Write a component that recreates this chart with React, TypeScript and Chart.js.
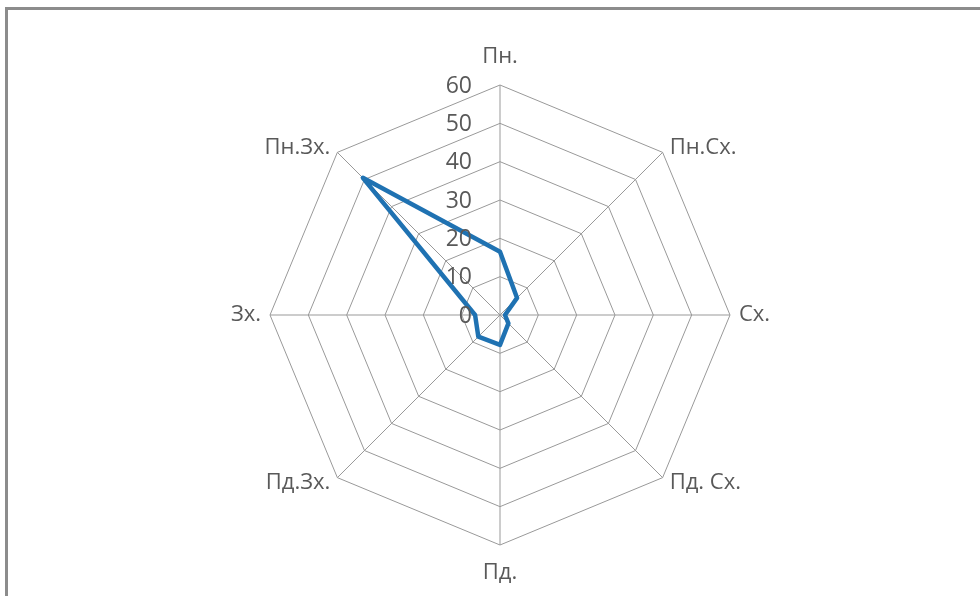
import React, { useEffect, useRef } from "react";
import { Chart, registerables } from "chart.js";

Chart.register(...registerables);

// Compass directions, clockwise from north
const directions = ["Пн.", "Пн.Сх.", "Сх.", "Пд. Сх.", "Пд.", "Пд.Зх.", "Зх.", "Пн.Зх."];
// Frequency per direction
const frequency = [16.5, 6.3, 1.3, 3.1, 7.8, 8.0, 6.5, 50.6];
// Radial tick values
const tickValues = [0, 10, 20, 30, 40, 50, 60];

const TEXT_COLOR = "#595959";
const GRID_COLOR = "#999999";
const LINE_COLOR = "#1f72b2";
const FONT_FAMILY = "'Open Sans', 'Noto Sans', sans-serif";

// Draws radial tick labels to the left of the vertical axis
const tickLabelPlugin = {
  id: "leftTickLabels",
  afterDraw(chart: any) {
    const scale = chart.scales.r;
    const ctx = chart.ctx;
    ctx.save();
    ctx.font = `23px ${FONT_FAMILY}`;
    ctx.fillStyle = TEXT_COLOR;
    ctx.textAlign = "right";
    ctx.textBaseline = "middle";
    tickValues.forEach((v) => {
      const p = scale.getPointPositionForValue(0, v);
      ctx.fillText(String(v), p.x - 28, p.y + 1);
    });
    ctx.restore();
  },
};

// Direction labels placed beside the outer polygon's corners
const directionLabelPlugin = {
  id: "directionLabels",
  afterDraw(chart: any) {
    const scale = chart.scales.r;
    const ctx = chart.ctx;
    ctx.save();
    ctx.font = `22px ${FONT_FAMILY}`;
    ctx.fillStyle = TEXT_COLOR;
    ctx.textBaseline = "middle";
    directions.forEach((label, i) => {
      const p = scale.getPointPosition(i, scale.drawingArea);
      const a = scale.getIndexAngle(i);
      const dx = Math.sin(a);
      const dy = -Math.cos(a);
      if (Math.abs(dx) < 0.01) {
        ctx.textAlign = "center";
        ctx.fillText(label, p.x, p.y + dy * 28);
      } else {
        const diagonal = Math.abs(dy) > 0.01;
        const gap = diagonal ? 7 : 9;
        ctx.textAlign = dx > 0 ? "left" : "right";
        ctx.fillText(label, p.x + Math.sign(dx) * gap, p.y + (diagonal ? Math.sign(dy) * 5 : 0));
      }
    });
    ctx.restore();
  },
};

// Frame line along the top and left edges
const framePlugin = {
  id: "frame",
  beforeDraw(chart: any) {
    const ctx = chart.ctx;
    ctx.save();
    ctx.strokeStyle = "#8c8c8c";
    ctx.lineWidth = 3;
    ctx.beginPath();
    ctx.moveTo(6.5, chart.height + 5);
    ctx.lineTo(6.5, 8.5);
    ctx.lineTo(chart.width + 5, 8.5);
    ctx.stroke();
    ctx.restore();
  },
};

export default function App() {
  const canvasRef = useRef<HTMLCanvasElement | null>(null);

  useEffect(() => {
    const canvas = canvasRef.current;
    if (!canvas) return;
    const chart = new Chart(canvas, {
      type: "radar",
      data: {
        labels: directions,
        datasets: [
          {
            data: frequency,
            borderColor: LINE_COLOR,
            borderWidth: 4.5,
            borderJoinStyle: "round",
            backgroundColor: "transparent",
            fill: false,
            pointRadius: 0,
            pointHoverRadius: 0,
          },
        ],
      },
      options: {
        responsive: false,
        animation: false,
        devicePixelRatio: 1,
        layout: { padding: { top: 85, bottom: 51, left: 20, right: 0 } },
        plugins: { legend: { display: false }, tooltip: { enabled: false } },
        scales: {
          r: {
            min: 0,
            max: 60,
            ticks: { display: false, stepSize: 10 },
            grid: { color: GRID_COLOR, lineWidth: 1, circular: false },
            angleLines: { color: GRID_COLOR, lineWidth: 1 },
            pointLabels: { display: false },
          },
        },
      },
      plugins: [framePlugin, tickLabelPlugin, directionLabelPlugin],
    });
    return () => chart.destroy();
  }, []);

  return (
    <div style={{ position: "absolute", left: 0, top: 0, width: 980, height: 596, overflow: "hidden", background: "#fff" }}>
      <canvas ref={canvasRef} width={980} height={596} style={{ display: "block" }} />
    </div>
  );
}
